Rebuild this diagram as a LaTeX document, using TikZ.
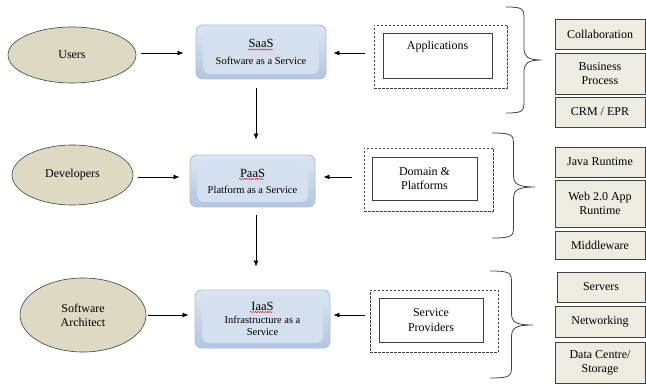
\documentclass[tikz,border=0pt]{standalone}
\usepackage{fontspec}
\setmainfont{Liberation Serif}
\usetikzlibrary{shapes.geometric,arrows.meta,calc,decorations.pathmorphing}
\definecolor{ellfill}{HTML}{DDD9C3}
\definecolor{boxfill}{HTML}{EEECE1}
\definecolor{edge}{HTML}{404040}
\definecolor{bluetop}{HTML}{DCE6F2}
\definecolor{bluebot}{HTML}{B2C6E0}
\definecolor{blueinner}{HTML}{D4E0EF}
\definecolor{blueedge}{HTML}{A9C0DD}
\newcommand\mybrace[5]{%
  \pgfmathsetmacro\xm{(#1+#2)/2}%
  \draw[bracestyle] (#1,#3) .. controls (\xm,#3) and (\xm,#3+2) .. (\xm,#3+13)
    -- (\xm,#5-12) .. controls (\xm,#5-3) and (\xm+4,#5) .. (#2,#5)
    .. controls (\xm+4,#5) and (\xm,#5+3) .. (\xm,#5+12)
    -- (\xm,#4-13) .. controls (\xm,#4-2) and (\xm,#4) .. (#1,#4);}
\newcommand\subfont{\fontsize{10.5}{12.5}\selectfont}
\tikzset{
  actor/.style={ellipse, draw=edge, fill=ellfill, line width=0.6pt, inner sep=0pt,
    font=\fontsize{12}{14}\selectfont, align=center},
  svc/.style={rounded corners=7pt, draw=blueedge, line width=0.9pt,
    top color=bluetop, bottom color=bluebot, align=center, inner sep=0pt,
    font=\fontsize{12.5}{15}\selectfont,
    path picture={\fill[blueinner] ($(path picture bounding box.north west)+(7pt,-6pt)$)
       rectangle ($(path picture bounding box.south east)+(-7pt,5pt)$);}},
  dashbox/.style={draw=edge, dash pattern=on 2.5pt off 1.5pt, line width=0.8pt, fill=white},
  inbox/.style={draw=edge, line width=0.8pt, fill=white, align=center, inner sep=0pt,
    font=\fontsize{12}{14.5}\selectfont},
  item/.style={draw=edge, fill=boxfill, line width=0.9pt, align=center, inner sep=0pt,
    font=\fontsize{12}{14}\selectfont},
  arr/.style={draw=black, line width=0.8pt, -{Latex[length=6pt,width=5pt]}},
  bracestyle/.style={draw=edge, line width=0.8pt},
  squig/.style={draw=red!85!black, line width=0.35pt,
    decorate, decoration={snake, amplitude=0.6pt, segment length=2.4pt}},
}
\begin{document}
\begin{tikzpicture}[x=1pt,y=-1pt]
\useasboundingbox (0,0) rectangle (646,385);
% actors
\node[actor, minimum width=128pt, minimum height=56pt] (users) at (72,55) {Users};
\node[actor, minimum width=121pt, minimum height=60pt] (dev) at (72.5,175) {Developers};
\node[actor, minimum width=126pt, minimum height=74pt] (arch) at (83,315) {Software\\Architect};
% service boxes
\node[svc, minimum width=130pt, minimum height=54pt] (saas) at (261,52)
  {SaaS\\[2pt]\subfont Software as a Service};
\node[svc, minimum width=125pt, minimum height=52pt] (paas) at (252.5,181)
  {PaaS\\[1pt]\subfont Platform as a Service};
\node[svc, minimum width=135pt, minimum height=58pt, font=\fontsize{12.5}{12.5}\selectfont] (iaas) at (262.5,319)
  {IaaS\\\subfont Infrastructure as a\\\subfont Service};
% dashed groups
\node[dashbox, minimum width=133pt, minimum height=63pt] (dash1) at (440.5,56.5) {};
\node[inbox, minimum width=109pt, minimum height=45pt,
  label={[font=\fontsize{12}{14}\selectfont, anchor=north, inner sep=0pt, yshift=-8pt]north:Applications}]
  (in1) at (437.5,55.5) {};
\node[dashbox, minimum width=129pt, minimum height=63pt] (dash2) at (428.5,179.5) {};
\node[inbox, minimum width=105pt, minimum height=43pt] (in2) at (424.5,178.5) {Domain \&\\Platforms};
\node[dashbox, minimum width=128pt, minimum height=62pt] (dash3) at (434,321) {};
\node[inbox, minimum width=104pt, minimum height=44pt] (in3) at (431,320) {Service\\Providers};
% right items
\node[item, minimum width=90pt, minimum height=30pt] (collab) at (600,34) {Collaboration};
\node[item, minimum width=90pt, minimum height=41pt] (bp) at (600,73.5) {Business\\Process};
\node[item, minimum width=90pt, minimum height=30pt] (crm) at (600,112) {CRM / EPR};
\node[item, minimum width=90pt, minimum height=30pt] (java) at (600,162) {Java Runtime};
\node[item, minimum width=90pt, minimum height=47pt] (web) at (600,203.5) {Web 2.0 App\\Runtime};
\node[item, minimum width=90pt, minimum height=28pt] (mid) at (600,245) {Middleware};
\node[item, minimum width=88pt, minimum height=30pt] (serv) at (601,287) {Servers};
\node[item, minimum width=90pt, minimum height=31pt] (net) at (600,321.5) {Networking};
\node[item, minimum width=90pt, minimum height=41pt] (dc) at (600,362.5) {Data Centre/\\Storage};
% braces
\mybrace{506}{542}{7}{113}{60}
\mybrace{492}{535}{133}{238}{187}
\mybrace{490}{533}{271}{378}{325}
% arrow rows
\coordinate (r1) at (0,53);
\coordinate (r2) at (0,177);
\coordinate (r3) at (0,315);
\coordinate (c1) at (256,0);
\draw[arr, shorten <=5pt, shorten >=12pt] (users.east |- r1) -- (saas.west |- r1);
\draw[arr, shorten <=9pt, shorten >=7pt] (dash1.west |- r1) -- (saas.east |- r1);
\draw[arr, shorten <=5pt, shorten >=10pt] (dev.east |- r2) -- (paas.west |- r2);
\draw[arr, shorten <=12pt, shorten >=8pt] (dash2.west |- r2) -- (paas.east |- r2);
\draw[arr, shorten <=2pt, shorten >=6pt] (arch.east |- r3) -- (iaas.west |- r3);
\draw[arr, shorten <=5pt, shorten >=3pt] (dash3.west |- r3) -- (iaas.east |- r3);
\draw[arr, shorten <=9pt, shorten >=15pt] (saas.south -| c1) -- (paas.north -| c1);
\draw[arr, shorten <=8pt, shorten >=23pt] (paas.south -| c1) -- (iaas.north -| c1);
% spelling squiggles
\draw[squig] (248,49.5) -- (273,49.5);
\draw[squig] (239,179) -- (264,179);
\draw[squig] (250,312) -- (273,312);
\end{tikzpicture}
\end{document}
